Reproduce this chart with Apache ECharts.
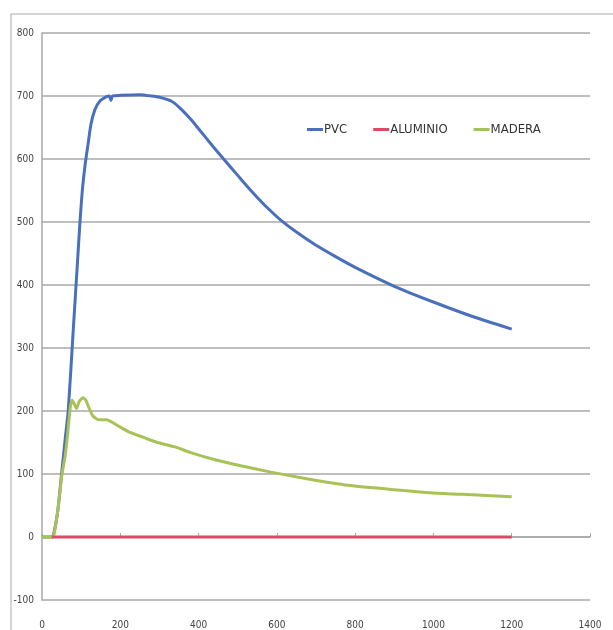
<!DOCTYPE html>
<html>
<head>
<meta charset="utf-8">
<script src="https://cdn.jsdelivr.net/npm/echarts@6/dist/echarts.min.js"></script>
<style>
  html, body { margin: 0; padding: 0; background: #fff; }
  #chart { width: 613px; height: 630px; }
</style>
</head>
<body>
<div id="chart"></div>
<script>
// datos (x, y)
var pvc = [
  [0, 0], [25, 0], [30, 5], [40, 40], [50, 100], [60, 160], [67, 200], [80, 330],
  [90, 430], [97, 500], [103, 550], [110, 590], [118, 625], [125, 655], [135, 678],
  [148, 692], [165, 699], [172, 700], [176, 693], [180, 700], [200, 701], [250, 702],
  [280, 700], [300, 698], [330, 692], [354, 680], [380, 663], [400, 648], [438, 619],
  [464, 600], [500, 574], [525, 556], [550, 539], [575, 523], [610, 503], [650, 484],
  [700, 463], [750, 445], [800, 428], [900, 398], [1000, 373], [1100, 350], [1200, 330]
];
var aluminio = [
  [25, 0], [200, 0], [400, 0], [600, 0], [800, 0], [1000, 0], [1200, 0]
];
var madera = [
  [0, 0], [25, 0], [30, 3], [40, 40], [50, 95], [59, 128], [65, 160], [72, 205],
  [77, 217], [82, 212], [88, 204], [95, 215], [105, 221], [112, 217], [120, 205],
  [130, 192], [145, 186], [165, 186], [190, 178], [225, 166], [260, 158], [295, 150],
  [340, 143], [380, 134], [440, 123], [508, 113], [585, 103], [680, 92], [782, 82],
  [900, 75], [1000, 70], [1100, 67], [1200, 64]
];
var nombres = ['PVC', 'ALUMINIO', 'MADERA'];
var colores = ['#4a70bd', '#dc4a66', '#a9c257'];

var myChart = echarts.init(document.getElementById('chart'));

var fuente = '"Liberation Sans Narrow", "DejaVu Sans Condensed", sans-serif';

option = {
  backgroundColor: '#fff',
  animation: false,
  graphic: [{
    type: 'rect',
    shape: { x: 11, y: 14, width: 640, height: 640 },
    style: { fill: null, stroke: '#c8c8c8', lineWidth: 1.5 },
    z: -1
  }],
  grid: { left: 42, right: 23, top: 33, bottom: 15 },
  legend: {
    data: nombres,
    top: 118,
    left: 302,
    itemWidth: 16,
    itemHeight: 3,
    itemGap: 26,
    icon: 'rect',
    textStyle: { fontFamily: fuente, fontSize: 13, color: '#333', padding: [0, 0, 0, -4] }
  },
  xAxis: {
    type: 'value',
    min: 0, max: 1400, interval: 200,
    axisLine: { onZero: true, lineStyle: { color: '#a8a8a8', width: 1.5 } },
    axisTick: { show: true, length: 4, inside: true, lineStyle: { color: '#a8a8a8' } },
    axisLabel: {
      margin: 20, fontFamily: fuente, fontSize: 10, color: '#444',
      formatter: function (v) { return String(v); }
    },
    splitLine: { show: false }
  },
  yAxis: {
    type: 'value',
    min: -100, max: 800, interval: 100,
    axisLine: { show: true, lineStyle: { color: '#a8a8a8', width: 1.5 } },
    axisTick: { show: false },
    axisLabel: { margin: 8, fontFamily: fuente, fontSize: 10, color: '#444' },
    splitLine: { show: true, lineStyle: { color: '#a8a8a8', width: 1.5 } }
  },
  series: [
    { name: nombres[0], type: 'line', data: pvc, showSymbol: false, smooth: 0.2,
      lineStyle: { width: 3, color: colores[0] }, itemStyle: { color: colores[0] }, z: 3 },
    { name: nombres[1], type: 'line', data: aluminio, showSymbol: false,
      lineStyle: { width: 3, color: colores[1] }, itemStyle: { color: colores[1] }, z: 4 },
    { name: nombres[2], type: 'line', data: madera, showSymbol: false, smooth: 0.2,
      lineStyle: { width: 3, color: colores[2] }, itemStyle: { color: colores[2] }, z: 3 }
  ]
};

myChart.setOption(option);
</script>
</body>
</html>
